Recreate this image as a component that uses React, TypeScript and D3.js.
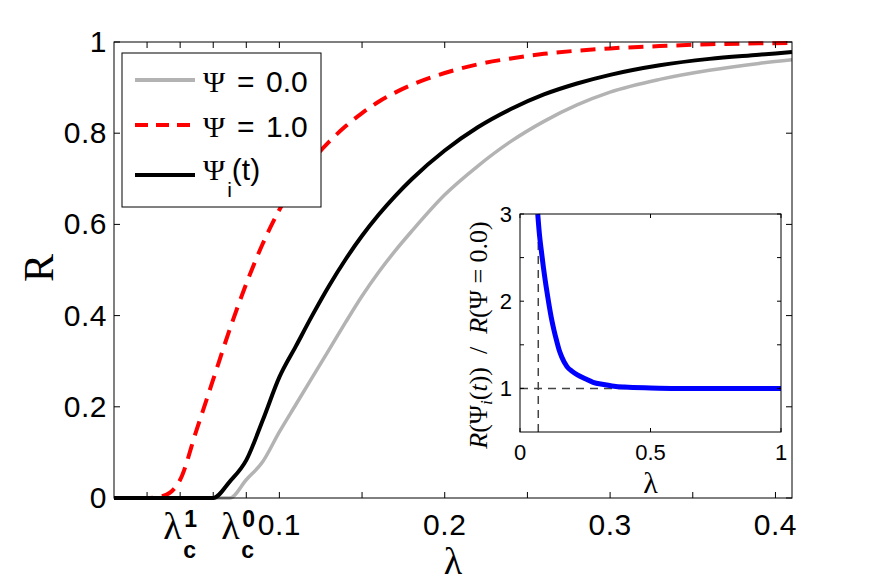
import React from 'react';
import * as d3 from 'd3';

// Order parameter R against coupling λ for three Ψ settings,
// with an inset showing the ratio R(Ψi(t)) / R(Ψ = 0.0).

const lambdaGrid = [0, 0.02, 0.03, 0.04, 0.05, 0.06, 0.07, 0.08, 0.09, 0.1, 0.11, 0.12, 0.13, 0.14,
  0.15, 0.16, 0.17, 0.18, 0.2, 0.22, 0.24, 0.26, 0.28, 0.3, 0.33, 0.36, 0.39, 0.41];

const rPsiZero = [0, 0, 0, 0, 0, 0, 0, 0.04, 0.08, 0.145, 0.205, 0.265, 0.325, 0.385,
  0.443, 0.495, 0.542, 0.585, 0.665, 0.728, 0.782, 0.826, 0.862, 0.89, 0.918, 0.938, 0.953, 0.961];

const rPsiOne = [0, 0, 0.005, 0.04, 0.15, 0.26, 0.37, 0.47, 0.558, 0.632, 0.692, 0.741, 0.781, 0.815,
  0.844, 0.869, 0.889, 0.906, 0.932, 0.951, 0.964, 0.974, 0.981, 0.986, 0.991, 0.995, 0.997, 0.998];

const rPsiTime = [0, 0, 0, 0, 0, 0, 0.036, 0.083, 0.171, 0.265, 0.333, 0.401, 0.465, 0.523,
  0.575, 0.621, 0.662, 0.699, 0.762, 0.813, 0.853, 0.885, 0.909, 0.928, 0.949, 0.963, 0.972, 0.978];

const insetLambda = [0.068, 0.075, 0.08, 0.09, 0.1, 0.11, 0.12, 0.13, 0.14, 0.15, 0.16, 0.18, 0.2,
  0.22, 0.25, 0.28, 0.32, 0.36, 0.4, 0.5, 0.6, 0.7, 0.8, 0.9, 1.0];
const insetRatio = [3.0, 2.75, 2.62, 2.38, 2.17, 1.98, 1.81, 1.67, 1.55, 1.44, 1.36, 1.25, 1.195,
  1.155, 1.11, 1.07, 1.045, 1.025, 1.015, 1.005, 1.0, 1.0, 1.0, 1.0, 1.0];

const xTicks = [0.02, 0.04, 0.06, 0.08, 0.1, 0.15, 0.2, 0.25, 0.3, 0.35, 0.4];
const xNumberLabels = [0.1, 0.2, 0.3, 0.4];
const criticalLabels = [{ value: 0.04, sup: '1', shift: 0 }, { value: 0.08, sup: '0', shift: -8 }];
const yTicks = [0, 0.2, 0.4, 0.6, 0.8, 1];

const insetXTicks = [0, 0.5, 1];
const insetYTicks = [1, 1.5, 2, 2.5, 3];
const insetYLabels = [1, 2, 3];
const criticalLambda = 0.07;

const SANS = "'Liberation Sans', Arial, Helvetica, sans-serif";
const SERIF = "'Liberation Serif', 'Times New Roman', serif";

const plot = { left: 114, right: 792, top: 42, bottom: 498 };
const inset = { left: 520, right: 781, top: 214, bottom: 432 };
const TICK = 6;

export default function App() {
  const x = d3.scaleLinear().domain([0, 0.41]).range([plot.left, plot.right]);
  const y = d3.scaleLinear().domain([0, 1]).range([plot.bottom, plot.top]);
  const ix = d3.scaleLinear().domain([0, 1]).range([inset.left, inset.right]);
  const iy = d3.scaleLinear().domain([0.5, 3]).range([inset.bottom, inset.top]);

  const mainPath = (vals: number[]) =>
    d3.line<number>()
      .x((_, i) => x(lambdaGrid[i]))
      .y(d => y(d))
      .curve(d3.curveMonotoneX)(vals) || '';

  const ratioPath = d3.line<number>()
    .x((_, i) => ix(insetLambda[i]))
    .y(d => iy(d))
    .curve(d3.curveMonotoneX)(insetRatio) || '';

  const series = [
    { values: rPsiZero, color: '#b3b3b3', dash: undefined, width: 3.5 },
    { values: rPsiOne, color: '#ff0000', dash: '15,9', width: 4 },
    { values: rPsiTime, color: '#000000', dash: undefined, width: 4 },
  ];

  const legendRows = [
    { color: '#b3b3b3', dash: undefined, y: 80, base: 92, value: '0.0' },
    { color: '#ff0000', dash: '13,8', y: 125, base: 137, value: '1.0' },
  ];

  return (
    <svg width={873} height={584} style={{ position: 'absolute', left: 0, top: 0, background: '#fff' }}>
      <rect x={0} y={0} width={873} height={584} fill="#fff" />

      {/* curves */}
      <g fill="none" strokeLinejoin="round">
        {series.map((s, i) => (
          <path key={i} d={mainPath(s.values)} stroke={s.color} strokeWidth={s.width} strokeDasharray={s.dash} />
        ))}
      </g>

      {/* axes box and ticks */}
      <rect x={plot.left} y={plot.top} width={plot.right - plot.left} height={plot.bottom - plot.top}
        fill="none" stroke="#000" strokeWidth={1} />
      <g stroke="#000" strokeWidth={1}>
        {xTicks.map(v => (
          <g key={v}>
            <line x1={x(v)} x2={x(v)} y1={plot.bottom} y2={plot.bottom - TICK} />
            <line x1={x(v)} x2={x(v)} y1={plot.top} y2={plot.top + TICK} />
          </g>
        ))}
        {yTicks.map(v => (
          <g key={v}>
            <line x1={plot.left} x2={plot.left + TICK} y1={y(v)} y2={y(v)} />
            <line x1={plot.right} x2={plot.right - TICK} y1={y(v)} y2={y(v)} />
          </g>
        ))}
      </g>

      {/* tick labels */}
      <g fontFamily={SANS} fontSize={30} fill="#000">
        {yTicks.map(v => (
          <text key={v} x={plot.left - 7} y={y(v) + 10} textAnchor="end" letterSpacing={0.5}>{String(v)}</text>
        ))}
        {xNumberLabels.map(v => (
          <text key={v} x={x(v)} y={plot.bottom + 37} textAnchor="middle" letterSpacing={0.5}>{String(v)}</text>
        ))}
        {criticalLabels.map(c => (
          <g key={c.value} transform={`translate(${x(c.value) + c.shift},0)`}>
            <text x={-17} y={plot.bottom + 41} fontSize={38} fontFamily={SERIF}>λ</text>
            <text x={3} y={plot.bottom + 60} fontSize={23} fontWeight="bold">c</text>
            <text x={4} y={plot.bottom + 29} fontSize={23} fontWeight="bold">{c.sup}</text>
          </g>
        ))}
      </g>

      {/* axis titles */}
      <text x={453} y={574} textAnchor="middle" fontFamily={SERIF} fontSize={38}>λ</text>
      <text transform="translate(53,268) rotate(-90)" textAnchor="middle" fontFamily={SERIF} fontSize={42}>R</text>

      {/* legend */}
      <rect x={122} y={53} width={199} height={154} fill="#fff" stroke="#000" strokeWidth={1} />
      <g fontFamily={SANS} fontSize={30}>
        {legendRows.map(r => (
          <g key={r.value}>
            <line x1={135} x2={195} y1={r.y} y2={r.y} stroke={r.color} strokeWidth={4} strokeDasharray={r.dash} />
            <text x={203} y={r.base}>
              <tspan fontFamily={SERIF}>Ψ</tspan>
              <tspan x={237}>=</tspan>
              <tspan x={266}>{r.value}</tspan>
            </text>
          </g>
        ))}
        <line x1={135} x2={195} y1={175} y2={175} stroke="#000" strokeWidth={4} />
        <text x={203} y={180}>
          <tspan fontFamily={SERIF}>Ψ</tspan><tspan fontSize={21} dy={17} dx={2}>i</tspan><tspan dy={-17}>(t)</tspan>
        </text>
      </g>

      {/* inset */}
      <rect x={inset.left} y={inset.top} width={inset.right - inset.left} height={inset.bottom - inset.top}
        fill="#fff" stroke="none" />
      <g stroke="#444" strokeWidth={1.5} strokeDasharray="8,6" fill="none">
        <line x1={ix(criticalLambda)} x2={ix(criticalLambda)} y1={inset.bottom} y2={inset.top} />
        <line x1={inset.left} x2={inset.right} y1={iy(1)} y2={iy(1)} />
      </g>
      <path d={ratioPath} fill="none" stroke="#0000ff" strokeWidth={5} strokeLinejoin="round" />
      <rect x={inset.left} y={inset.top} width={inset.right - inset.left} height={inset.bottom - inset.top}
        fill="none" stroke="#000" strokeWidth={1} />
      <g stroke="#000" strokeWidth={1}>
        {insetXTicks.map(v => (
          <g key={v}>
            <line x1={ix(v)} x2={ix(v)} y1={inset.bottom} y2={inset.bottom - 4} />
            <line x1={ix(v)} x2={ix(v)} y1={inset.top} y2={inset.top + 4} />
          </g>
        ))}
        {insetYTicks.map(v => (
          <g key={v}>
            <line x1={inset.left} x2={inset.left + 4} y1={iy(v)} y2={iy(v)} />
            <line x1={inset.right} x2={inset.right - 4} y1={iy(v)} y2={iy(v)} />
          </g>
        ))}
      </g>
      <g fontFamily={SANS} fontSize={22}>
        {insetYLabels.map(v => (
          <text key={v} x={inset.left - 8} y={iy(v) + 8} textAnchor="end">{String(v)}</text>
        ))}
        {insetXTicks.map(v => (
          <text key={v} x={ix(v)} y={460} textAnchor="middle">{String(v)}</text>
        ))}
      </g>
      <text x={(inset.left + inset.right) / 2} y={493} textAnchor="middle" fontFamily={SERIF} fontSize={30}>λ</text>
      <text transform="translate(487,335) rotate(-90)" textAnchor="middle" fontFamily={SERIF} fontSize={26}
        xmlSpace="preserve">
        <tspan fontStyle="italic">R</tspan>(Ψ<tspan fontStyle="italic" fontSize={17} dy={5}>i</tspan>
        <tspan dy={-5}>(</tspan><tspan fontStyle="italic">t</tspan>))  /  <tspan fontStyle="italic">R</tspan>(Ψ = 0.0)
      </text>
    </svg>
  );
}
